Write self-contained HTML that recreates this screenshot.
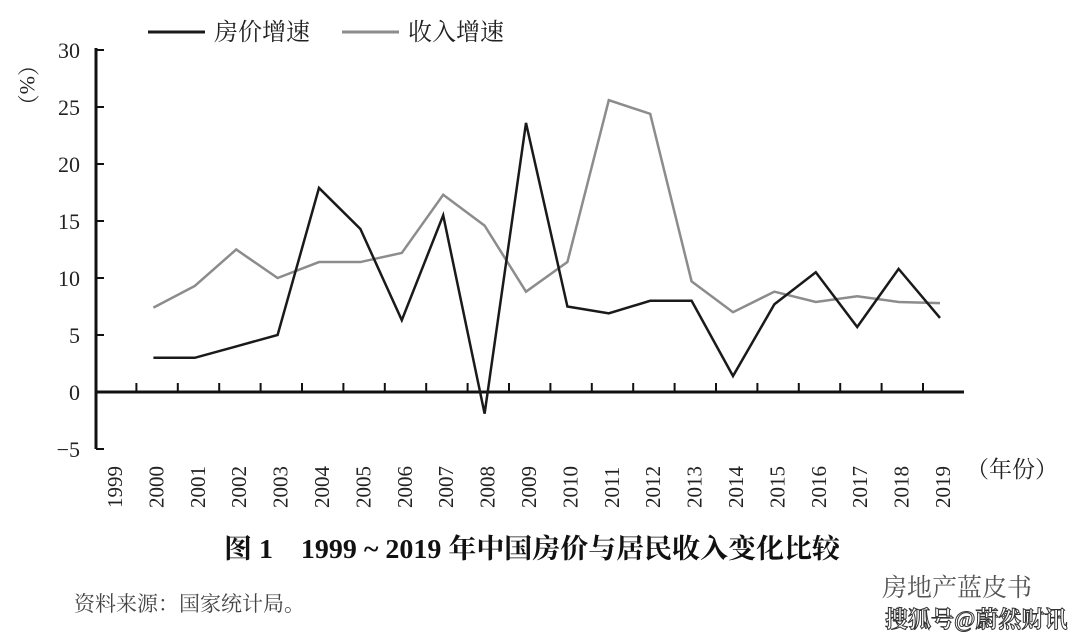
<!DOCTYPE html>
<html><head><meta charset="utf-8"><style>
body{margin:0;background:#fff;width:1080px;height:637px;overflow:hidden;font-family:"Liberation Serif","Noto Serif CJK SC",serif}
svg text{font-family:"Liberation Serif","Noto Serif CJK SC",serif}
</style></head><body>
<svg id="c" width="1080" height="637"></svg>
<script>
const years=["1999","2000","2001","2002","2003","2004","2005","2006","2007","2008","2009","2010","2011","2012","2013","2014","2015","2016","2017","2018","2019"];
const yTicks=[30,25,20,15,10,5,0,-5];
const houseYears=["2000","2001","2002","2003","2004","2005","2006","2007","2008","2009","2010","2011","2012","2013","2014","2015","2016","2017","2018","2019"];
const houseGrowth=[3,3,4,5,17.9,14.3,6.3,15.5,-1.9,23.6,7.5,6.9,8.0,8.0,1.4,7.7,10.5,5.7,10.8,6.5];
const incomeGrowth=[7.4,9.3,12.5,10.0,11.4,11.4,12.2,17.3,14.6,8.8,11.4,25.6,24.4,9.7,7.0,8.8,7.9,8.4,7.9,7.8];
const NS="http://www.w3.org/2000/svg",svg=document.getElementById('c');
function el(t,a,txt){const e=document.createElementNS(NS,t);for(const k in a)e.setAttribute(k,a[k]);if(txt!=null)e.textContent=txt;svg.appendChild(e);return e;}
const y=v=>392-(v*57/5);
const x=yr=>112+41.4*years.indexOf(yr);
let e;
e=el('line',{x1:96,y1:48,x2:96,y2:449,stroke:'#111','stroke-width':3});

e=el('line',{x1:95,y1:392,x2:964,y2:392,stroke:'#111','stroke-width':3});

yTicks.forEach(v=>{
 const t=el('line',{x1:96,y1:y(v),x2:104,y2:y(v),stroke:'#111','stroke-width':2});
 
 const l=el('text',{x:80,y:y(v)+8,'text-anchor':'end','font-size':22,fill:'#222'},v<0?'−'+(-v):String(v));
 
});
for(let i=1;i<years.length;i++){
 const tx=95+41.4*i;
 const t=el('line',{x1:tx,y1:383,x2:tx,y2:392,stroke:'#111','stroke-width':2});
 
}
years.forEach(yr=>{
 const cx=x(yr)+2;
 const l=el('text',{x:0,y:0,'font-size':21,fill:'#222',transform:`translate(${cx+8},508) rotate(-90)`},yr);
 
});
e=el('text',{x:14,y:80,'font-size':22,fill:'#222'},'（%）');
e.setAttribute('transform','rotate(90 30 70)');

e=el('text',{x:966,y:477,'font-size':23,fill:'#222'},'（年份）');

function line(vals,color,name){
 const p=vals.map((v,i)=>x(houseYears[i])+','+y(v)).join(' ');
 const l=el('polyline',{points:p,fill:'none',stroke:color,'stroke-width':2.5,'stroke-linejoin':'miter'});
 
}
line(incomeGrowth,'#8c8c8c','income-growth-line');
line(houseGrowth,'#1a1a1a','house-price-growth-line');
e=el('line',{x1:148,y1:32,x2:205,y2:32,stroke:'#1a1a1a','stroke-width':3});

e=el('text',{x:214,y:40,'font-size':24,fill:'#222'},'房价增速');

e=el('line',{x1:342,y1:32,x2:399,y2:32,stroke:'#8c8c8c','stroke-width':3});

e=el('text',{x:408,y:40,'font-size':24,fill:'#222'},'收入增速');

e=el('text',{x:224,y:558,'font-size':27,'font-weight':'bold',fill:'#111',textLength:616,lengthAdjust:'spacingAndGlyphs'},'图 1　1999 ~ 2019 年中国房价与居民收入变化比较');

e=el('text',{x:74,y:611,'font-size':21,fill:'#444'},'资料来源：国家统计局。');

e=el('text',{x:882,y:596,'font-size':25,fill:'#555','font-family':'Liberation Sans,Noto Sans CJK SC,sans-serif'},'房地产蓝皮书');

e=el('text',{x:885,y:627,'font-size':23,fill:'#fff',stroke:'#333','stroke-width':1,'font-weight':'bold','font-family':'Liberation Sans,Noto Sans CJK SC,sans-serif'},'搜狐号@蔚然财讯');

</script>
</body></html>
